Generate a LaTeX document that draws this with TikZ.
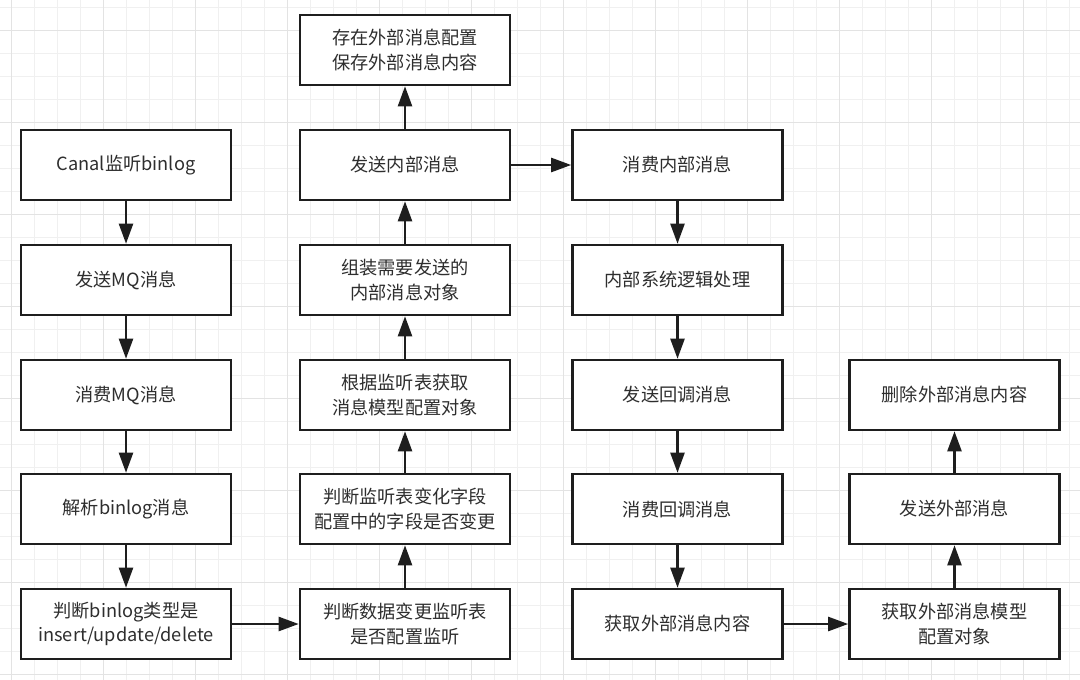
\documentclass[tikz,border=0pt]{standalone}
\usepackage{fontspec}
\setmainfont{Noto Sans CJK SC}
\usetikzlibrary{arrows.meta}
\definecolor{txt}{HTML}{2E2E2E}
\definecolor{edge}{HTML}{1E1E1E}
\definecolor{gminor}{HTML}{F0F0F0}
\definecolor{gmajor}{HTML}{E3E3E3}
\begin{document}
\begin{tikzpicture}[x=1pt,y=-1pt,
  box/.style={draw=edge,line width=2.6pt,fill=white,minimum width=210pt,minimum height=70pt,
    inner sep=0pt,align=center,text=txt,font=\fontsize{18.2}{24.5}\selectfont},
  arr/.style={draw=edge,line width=2.4pt,-{Triangle[length=20pt,width=14pt]}}]
\useasboundingbox (0,0) rectangle (1080,680);
\fill[white] (0,0) rectangle (1080,680);
% grid
\foreach \i in {0,...,46} {
  \pgfmathsetmacro{\xx}{11.7+23*\i}
  \draw[gminor,line width=1pt] (\xx,0) -- (\xx,680);
}
\foreach \i in {0,...,29} {
  \pgfmathsetmacro{\yy}{7.5+23*\i}
  \draw[gminor,line width=1pt] (0,\yy) -- (1080,\yy);
}
\foreach \i in {0,...,11} {
  \pgfmathsetmacro{\xx}{11.7+92*\i}
  \draw[gmajor,line width=1.2pt] (\xx,0) -- (\xx,680);
}
\foreach \i in {0,...,7} {
  \pgfmathsetmacro{\yy}{30.5+92*\i}
  \draw[gmajor,line width=1.2pt] (0,\yy) -- (1080,\yy);
}
% column 1
\node[box] (a1) at (126,165) {Canal监听binlog};
\node[box] (a2) at (126,280) {发送MQ消息};
\node[box] (a3) at (126,395) {消费MQ消息};
\node[box] (a4) at (126,509) {解析binlog消息};
\node[box] (a5) at (126,624) {判断binlog类型是\\insert/update/delete};
% column 2
\node[box] (b0) at (405,50) {存在外部消息配置\\保存外部消息内容};
\node[box] (b1) at (405,165) {发送内部消息};
\node[box] (b2) at (405,280) {组装需要发送的\\内部消息对象};
\node[box] (b3) at (405,395) {根据监听表获取\\消息模型配置对象};
\node[box] (b4) at (405,509) {判断监听表变化字段\\配置中的字段是否变更};
\node[box] (b5) at (405,624) {判断数据变更监听表\\是否配置监听};
% column 3
\node[box] (c1) at (677.5,165) {消费内部消息};
\node[box] (c2) at (677.5,280) {内部系统逻辑处理};
\node[box] (c3) at (677.5,395) {发送回调消息};
\node[box] (c4) at (677.5,509) {消费回调消息};
\node[box] (c5) at (677.5,624) {获取外部消息内容};
% column 4
\node[box] (d3) at (954.5,395) {删除外部消息内容};
\node[box] (d4) at (954.5,509) {发送外部消息};
\node[box] (d5) at (954.5,624) {获取外部消息模型\\配置对象};
% arrows
\draw[arr] (a1) -- (a2);
\draw[arr] (a2) -- (a3);
\draw[arr] (a3) -- (a4);
\draw[arr] (a4) -- (a5);
\draw[arr] (a5) -- (b5);
\draw[arr] (b5) -- (b4);
\draw[arr] (b4) -- (b3);
\draw[arr] (b3) -- (b2);
\draw[arr] (b2) -- (b1);
\draw[arr] (b1) -- (b0);
\draw[arr] (b1) -- (c1);
\draw[arr] (c1) -- (c2);
\draw[arr] (c2) -- (c3);
\draw[arr] (c3) -- (c4);
\draw[arr] (c4) -- (c5);
\draw[arr] (c5) -- (d5);
\draw[arr] (d5) -- (d4);
\draw[arr] (d4) -- (d3);
\end{tikzpicture}
\end{document}
